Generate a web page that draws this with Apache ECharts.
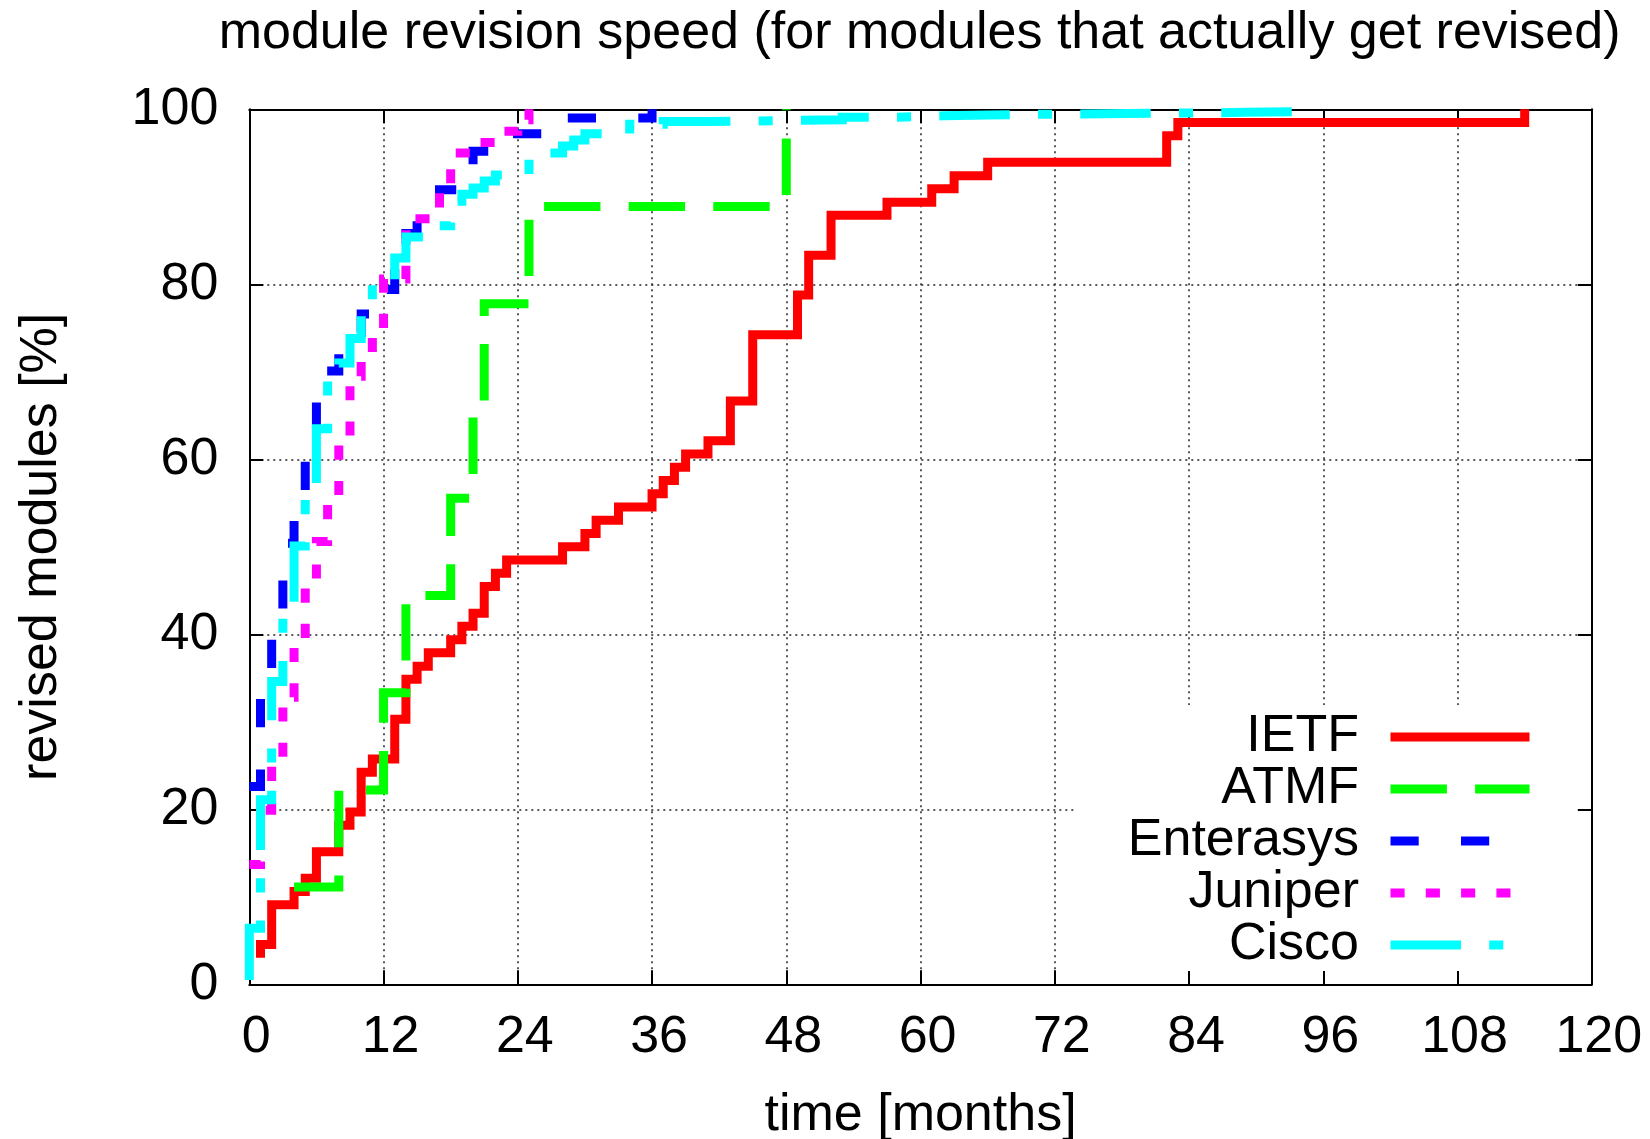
<!DOCTYPE html>
<html>
<head>
<meta charset="utf-8">
<script src="https://cdn.jsdelivr.net/npm/echarts@6/dist/echarts.min.js"></script>
<style>
html,body{margin:0;padding:0;background:#fff;}
#chart{width:1650px;height:1139px;}
</style>
</head>
<body>
<div id="chart"></div>
<script>
// ---- data (month, cumulative % of revised modules) ----
const titleText = 'module revision speed (for modules that actually get revised)';
const xName = 'time [months]';
const yName = 'revised modules [%]';
const seriesNames = ['IETF', 'ATMF', 'Enterasys', 'Juniper', 'Cisco'];

const ietfData = [
  [1, 3.03], [1, 4.55], [2, 9.09], [4, 10.61], [5, 12.12], [6, 15.15], [8, 18.18],
  [9, 19.70], [10, 24.24], [11, 25.76], [13, 30.30], [14, 34.85], [15, 36.36],
  [16, 37.88], [18, 39.39], [19, 40.91], [20, 42.42], [21, 45.45], [22, 46.97],
  [23, 48.48], [28, 50.00], [30, 51.52], [31, 53.03], [33, 54.55], [36, 56.06],
  [37, 57.58], [38, 59.09], [39, 60.61], [41, 62.12], [43, 66.67], [45, 74.24],
  [49, 78.79], [50, 83.33], [52, 87.88], [57, 89.39], [61, 90.91], [63, 92.42],
  [66, 93.94], [82, 96.97], [83, 98.48], [114, 100]
];
const atmfData = [
  [4, 11.11], [8, 22.22], [12, 33.33], [14, 44.44], [18, 55.56], [20, 66.67],
  [21, 77.78], [25, 88.89], [48, 100]
];
const enterasysData = [
  [0, 22.6], [1, 34.0], [2, 41.0], [3, 50.4], [4, 55.0], [5, 61.5], [6, 70.1],
  [8, 72.6], [9, 74.5], [10, 76.6], [12, 79.4], [13, 83.0], [14, 85.8], [15, 88.5],
  [17, 90.8], [20, 95.2], [23, 97.2], [27, 99.0], [36, 100]
];
const juniperData = [
  [0, 13.7], [1, 19.9], [2, 25.3], [3, 32.8], [4, 39.5], [5, 45.8], [6, 50.6],
  [7, 55.5], [8, 62.5], [9, 69.5], [10, 72.0], [11, 74.8], [12, 80.6], [14, 87.5],
  [17, 91.0], [18, 95.0], [20, 96.2], [22, 97.5], [24, 98.8], [25, 100]
];
const ciscoData = [
  [0, 0.5], [0, 6.4], [1, 21.1], [2, 34.6], [3, 42.5], [4, 50.1], [5, 55.8],
  [6, 63.5], [7, 69.3], [8, 71.0], [9, 73.8], [10, 76.5], [11, 79.9], [12, 80.3],
  [13, 83.0], [14, 85.4], [16, 86.7], [18, 89.5], [19, 90.3], [20, 91.0],
  [21, 91.8], [22, 92.5], [25, 95.0], [28, 95.8], [29, 96.5], [30, 97.2],
  [34, 98.3], [37, 98.6], [41, 98.8], [53, 99.1], [58, 99.25], [62, 99.35],
  [66, 99.45], [72, 99.55], [82, 99.65], [89, 99.75], [95.2, 100]
];
const xMin = 0, xMax = 120, xStep = 12;
const yMin = 0, yMax = 100, yStep = 20;

// ---- styling ----
const FONT = '"Liberation Sans", Arial, Helvetica, sans-serif';
const FS = 52;
const colors = ['#ff0000', '#00ff00', '#0000ff', '#ff00ff', '#00ffff'];
const dashes = ['solid', [56.4, 28.2], [28.2, 42.3], [14.1, 21.2], [70.5, 28.2, 14.1, 28.2]];
const allData = [ietfData, atmfData, enterasysData, juniperData, ciscoData];

const gridBox = {left: 249.3, top: 109.3, width: 1342.5, height: 875};

function axisCommon(pos, isX, main) {
  return {
    type: 'value',
    position: pos,
    min: isX ? xMin : yMin,
    max: isX ? xMax : yMax,
    interval: isX ? xStep : yStep,
    axisLine: {show: true, onZero: false, lineStyle: {color: '#000', width: 2}},
    axisTick: {show: true, inside: true, length: 14, lineStyle: {color: '#000', width: 2}},
    axisLabel: {
      show: main, margin: isX ? 27 : 31, fontSize: FS, fontFamily: FONT, color: '#000',
      padding: isX ? [0, 0, 0, 14] : 0,
      showMinLabel: true, showMaxLabel: true, hideOverlap: false
    },
    splitLine: {show: main, lineStyle: {color: '#222', type: [2, 4], width: 1.5}},
    minorTick: {show: false},
    silent: true
  };
}

const xMain = Object.assign(axisCommon('bottom', true, true), {
  name: xName, nameLocation: 'middle', nameGap: 105,
  nameTextStyle: {fontSize: FS, fontFamily: FONT, color: '#000'}
});
const xTop = axisCommon('top', true, false);
const yMain = Object.assign(axisCommon('left', false, true), {
  name: yName, nameLocation: 'middle', nameGap: 182, nameRotate: 90,
  nameTextStyle: {fontSize: FS, fontFamily: FONT, color: '#000'}
});
// right border axis is drawn above the key box, as in the reference
const yRight = Object.assign(axisCommon('right', false, false), {z: 10});

const series = seriesNames.map((name, i) => ({
  name: name,
  type: 'line',
  xAxisIndex: 0,
  yAxisIndex: 0,
  data: allData[i],
  step: 'end',
  symbol: 'none',
  showSymbol: false,
  clip: true,
  animation: false,
  lineStyle: {color: colors[i], width: 9, type: dashes[i], cap: 'butt', join: 'miter'},
  itemStyle: {color: colors[i]},
  emphasis: {disabled: true}
}));

const chart = echarts.init(document.getElementById('chart'), null, {renderer: 'canvas'});
chart.setOption({
  backgroundColor: '#ffffff',
  animation: false,
  textStyle: {fontFamily: FONT},
  grid: Object.assign({outerBoundsMode: 'none', containLabel: false}, gridBox),
  xAxis: [xMain, xTop],
  yAxis: [yMain, yRight],
  legend: {
    show: true,
    orient: 'vertical',
    align: 'right',
    right: 53,
    top: 705,
    itemWidth: 139,
    itemHeight: 9,
    itemGap: 0,
    padding: [6, 63, 0, 53],
    backgroundColor: '#ffffff',
    selectedMode: false,
    data: seriesNames,
    lineStyle: {width: 9},
    itemStyle: {opacity: 0, color: 'rgba(0,0,0,0)', borderWidth: 0},
    textStyle: {fontSize: FS, fontFamily: FONT, color: '#000', lineHeight: 52, padding: [0, 26.5, 0, 0]}
  },
  graphic: [{
    type: 'text',
    x: 919.6,
    y: 33.5,
    silent: true,
    style: {
      text: titleText, font: FS + 'px ' + FONT, fill: '#000',
      align: 'center', verticalAlign: 'middle',
      textAlign: 'center', textVerticalAlign: 'middle'
    }
  }],
  series: series
});
</script>
</body>
</html>
